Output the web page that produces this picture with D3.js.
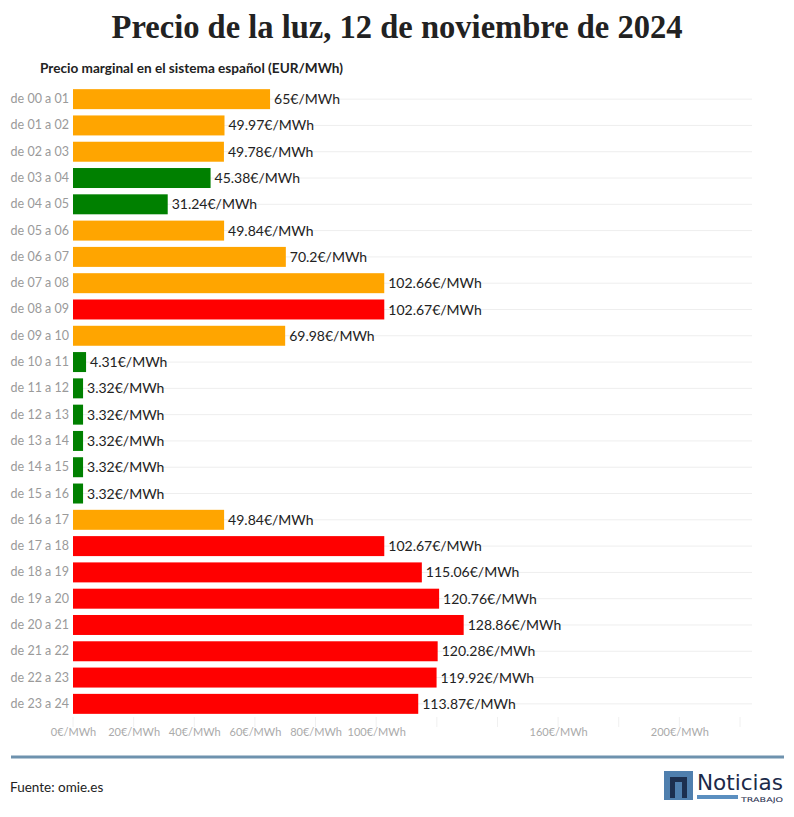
<!DOCTYPE html>
<html><head><meta charset="utf-8">
<script src="https://cdn.jsdelivr.net/npm/d3@7"></script>
<style>body{margin:0;background:#fff}svg{display:block}</style>
</head><body>
<svg id="c" width="794" height="817"></svg>
<script>
const hours = ["de 00 a 01","de 01 a 02","de 02 a 03","de 03 a 04","de 04 a 05","de 05 a 06","de 06 a 07","de 07 a 08","de 08 a 09","de 09 a 10","de 10 a 11","de 11 a 12","de 12 a 13","de 13 a 14","de 14 a 15","de 15 a 16","de 16 a 17","de 17 a 18","de 18 a 19","de 19 a 20","de 20 a 21","de 21 a 22","de 22 a 23","de 23 a 24"];
const prices = [65,49.97,49.78,45.38,31.24,49.84,70.2,102.66,102.67,69.98,4.31,3.32,3.32,3.32,3.32,3.32,49.84,102.67,115.06,120.76,128.86,120.28,119.92,113.87];
const levels = ["mid","mid","mid","low","low","mid","mid","mid","high","mid","low","low","low","low","low","low","mid","high","high","high","high","high","high","high"];
const tickValues = [0,20,40,60,80,100,160,200];
const gridValues = [0,20,40,60,80,100,120,140,160,180,200,220];
const levelColor = {low:"#008000", mid:"#FFA500", high:"#FF0000"};

const svg = d3.select("#c");
const x = d3.scaleLinear().domain([0,220]).range([73,740]);
const y = d3.scaleBand().domain(hours).range([86,717]).paddingInner(0.24).paddingOuter(0.12);

svg.append("text").attr("x",397).attr("y",38).attr("text-anchor","middle")
  .attr("font-family","Liberation Serif").attr("font-weight","bold").attr("font-size",33)
  .attr("fill","#222").attr("textLength",571).attr("lengthAdjust","spacingAndGlyphs")
  .text("Precio de la luz, 12 de noviembre de 2024");
svg.append("text").attr("x",40).attr("y",73)
  .attr("font-family","Lato").attr("font-weight","bold").attr("font-size",13.5)
  .attr("fill","#222").attr("textLength",303).attr("lengthAdjust","spacingAndGlyphs")
  .text("Precio marginal en el sistema español (EUR/MWh)");

// row gridlines
svg.append("g").selectAll("line").data(hours).join("line")
  .attr("x1",x(0)).attr("x2",752)
  .attr("y1",d=>y(d)+y.bandwidth()/2).attr("y2",d=>y(d)+y.bandwidth()/2)
  .attr("stroke","#eeeeee").attr("stroke-width",1);
// small vertical ticks
svg.append("g").selectAll("line").data(gridValues).join("line")
  .attr("x1",d=>x(d)).attr("x2",d=>x(d)).attr("y1",717).attr("y2",727)
  .attr("stroke","#f0f0f0");

svg.append("g").selectAll("rect").data(hours).join("rect")
  .attr("x",x(0)).attr("y",d=>y(d))
  .attr("width",(d,i)=>x(prices[i])-x(0)).attr("height",y.bandwidth())
  .attr("fill",(d,i)=>levelColor[levels[i]]);

svg.append("g").selectAll("text").data(hours).join("text")
  .attr("x",(d,i)=>x(prices[i])+4).attr("y",d=>y(d)+y.bandwidth()/2)
  .attr("dy","0.36em").attr("font-family","Lato").attr("font-size",14).attr("fill","#222")
  .text((d,i)=>prices[i]+"€/MWh");

const ya = svg.append("g").attr("transform",`translate(${x(0)-4},0)`)
  .call(d3.axisLeft(y).tickSize(0).tickPadding(0));
ya.select(".domain").remove();
ya.selectAll("text").attr("font-family","Lato").attr("font-size",12.5).attr("fill","#9a9a9a");

const xa = svg.append("g").attr("transform","translate(0,722)")
  .call(d3.axisBottom(x).tickValues(tickValues).tickSize(0).tickPadding(6).tickFormat(d=>d+"€/MWh"));
xa.select(".domain").remove();
xa.selectAll("text").attr("font-family","Lato").attr("font-size",11).attr("fill","#aaaaaa");

svg.append("line").attr("x1",11).attr("x2",784).attr("y1",757).attr("y2",757)
  .attr("stroke","#6e92ae").attr("stroke-width",3);
svg.append("text").attr("x",10).attr("y",792).attr("font-family","Lato").attr("font-size",13.5)
  .attr("fill","#222").text("Fuente: omie.es");

// logo
const lg = svg.append("g");
lg.append("rect").attr("x",664).attr("y",771).attr("width",29).attr("height",29).attr("fill","#4f7fae");
lg.append("path").attr("d","M670 798 V777 H687 V798 H682 V782 H675 V798 Z").attr("fill","#1c2f4f");
lg.append("text").attr("x",697).attr("y",790).attr("font-family","Liberation Sans Narrow, DejaVu Sans Condensed").attr("font-size",22)
  .attr("fill","#1c2a4a").attr("textLength",86).attr("lengthAdjust","spacingAndGlyphs").text("Noticias");
lg.append("rect").attr("x",697).attr("y",795).attr("width",41).attr("height",4).attr("fill","#5b8fc0");
lg.append("text").attr("x",741).attr("y",802).attr("font-family","DejaVu Sans").attr("font-size",6.5)
  .attr("fill","#1c2a4a").attr("textLength",42).attr("lengthAdjust","spacingAndGlyphs").text("TRABAJO");
</script>
</body></html>
